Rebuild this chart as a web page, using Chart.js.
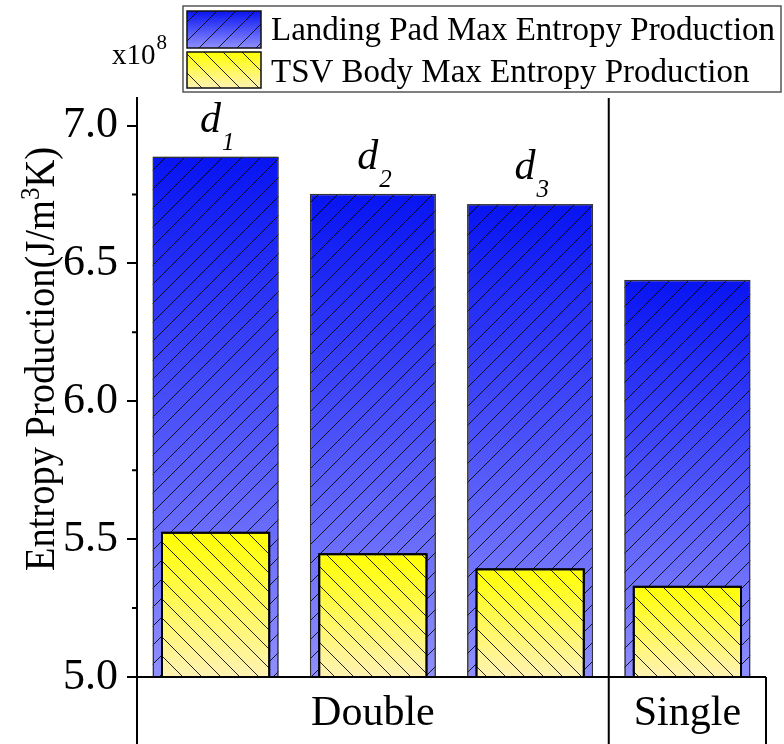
<!DOCTYPE html>
<html><head><meta charset="utf-8">
<script src="https://cdn.jsdelivr.net/npm/chart.js@4.4.0/dist/chart.umd.min.js"></script>
<style>html,body{margin:0;padding:0;background:#fff}#wrap{width:784px;height:744px;position:relative}</style>
</head><body><div id="wrap"><canvas id="c"></canvas></div>
<script>
// ---- data ----
const categories = ['d1', 'd2', 'd3', 'Single'];
const groupLabels = ['Double', 'Double', 'Double', 'Single'];
const barTagMain = ['d', 'd', 'd', ''];
const barTagSub = ['1', '2', '3', ''];
const seriesNames = ['Landing Pad Max Entropy Production', 'TSV Body Max Entropy Production'];
const landingPad = [6.887, 6.752, 6.715, 6.440];
const tsvBody = [5.527, 5.449, 5.394, 5.331];
const yMinorTicks = [5.25, 5.75, 6.25, 6.75];
const yMin = 5.0, yMax = 7.1, yStep = 0.5;
const axisTitleParts = ['Entropy Production(J/m', '3', 'K)'];
const scaleLabelParts = ['x10', '8'];

const SERIF = '"Liberation Serif", "Times New Roman", serif';
const LP_TOP = '#0814f2', LP_BOT = '#8f8fff';
const TSV_TOP = '#ffff00', TSV_BOT = '#fff2b4';
const HATCH_STEP = 19;

function gradFill(ctx, top, bottom, c0, c1) {
  const g = ctx.createLinearGradient(0, top, 0, bottom);
  g.addColorStop(0, c0); g.addColorStop(1, c1); return g;
}
function barBg(c0, c1) {
  return (ctx) => {
    const chart = ctx.chart;
    if (!chart.chartArea || ctx.type !== 'data') return c1;
    const ys = chart.scales.y;
    return gradFill(chart.ctx, ys.getPixelForValue(ctx.raw), ys.getPixelForValue(yMin), c0, c1);
  };
}
function hatch(ctx, x0, y0, x1, y1, dir, step) {
  ctx.save();
  ctx.beginPath(); ctx.rect(x0, y0, x1 - x0, y1 - y0); ctx.clip();
  ctx.strokeStyle = 'rgba(0,0,0,0.85)'; ctx.lineWidth = 1;
  ctx.beginPath();
  if (dir > 0) {
    const c0 = Math.floor((x0 + y0) / step) * step;
    for (let c = c0; c <= x1 + y1 + step; c += step) { ctx.moveTo(c - y0, y0); ctx.lineTo(c - y1, y1); }
  } else {
    const c0 = Math.floor((x0 - y1) / step) * step;
    for (let c = c0; c <= x1 - y0 + step; c += step) { ctx.moveTo(c + y0, y0); ctx.lineTo(c + y1, y1); }
  }
  ctx.stroke(); ctx.restore();
}

const decor = {
  id: 'decor',
  afterDatasetDraw(chart, args) {
    const ctx = chart.ctx, ca = chart.chartArea;
    const ds = chart.data.datasets[args.index];
    const dir = args.index === 0 ? 1 : -1;
    args.meta.data.forEach(el => {
      const p = el.getProps(['x', 'y', 'base', 'width'], true);
      const l = p.x - p.width / 2, r = p.x + p.width / 2;
      const top = Math.max(p.y, ca.top), bot = Math.min(p.base, ca.bottom);
      hatch(ctx, l, top, r, bot, dir, HATCH_STEP);
      ctx.save();
      ctx.strokeStyle = ds.borderColor; ctx.lineWidth = ds.borderWidth;
      const h = ds.borderWidth / 2;
      ctx.strokeRect(l + h, top + h, p.width - 2 * h, bot - top - h);
      ctx.restore();
    });
  },
  afterDraw(chart) {
    const ctx = chart.ctx, ca = chart.chartArea, xs = chart.scales.x, ys = chart.scales.y;
    const H = chart.height;
    ctx.save();
    ctx.strokeStyle = '#000'; ctx.lineWidth = 2;
    ctx.beginPath();
    ctx.moveTo(ca.left - 10, ca.bottom); ctx.lineTo(ca.right, ca.bottom);
    ctx.moveTo(ca.left, ca.top); ctx.lineTo(ca.left, H);
    ctx.moveTo(ca.right, ca.bottom); ctx.lineTo(ca.right, H);
    const groups = [];
    groupLabels.forEach((g, i) => {
      if (!groups.length || groups[groups.length - 1].name !== g) groups.push({ name: g, first: i, last: i });
      else groups[groups.length - 1].last = i;
    });
    const edges = groups.map(g => {
      const l = g.first === 0 ? ca.left : (xs.getPixelForValue(g.first - 1) + xs.getPixelForValue(g.first)) / 2;
      const r = g.last === categories.length - 1 ? ca.right : (xs.getPixelForValue(g.last) + xs.getPixelForValue(g.last + 1)) / 2;
      return { l, r, name: g.name };
    });
    edges.forEach((e, i) => { if (i > 0) { ctx.moveTo(e.l, ca.top); ctx.lineTo(e.l, H); } });
    ctx.stroke();
    ctx.beginPath();
    yMinorTicks.forEach(v => { const y = ys.getPixelForValue(v); ctx.moveTo(ca.left - 5, y); ctx.lineTo(ca.left, y); });
    ctx.stroke();
    ctx.fillStyle = '#000'; ctx.textAlign = 'center'; ctx.textBaseline = 'alphabetic';
    ctx.font = '42px ' + SERIF;
    edges.forEach(e => ctx.fillText(e.name, (e.l + e.r) / 2, 725));
    categories.forEach((c, i) => {
      if (!barTagMain[i]) return;
      const x = xs.getPixelForValue(i);
      const top = ys.getPixelForValue(landingPad[i]);
      ctx.font = 'italic 42px ' + SERIF;
      const w1 = ctx.measureText(barTagMain[i]).width;
      ctx.font = 'italic 25px ' + SERIF;
      const w2 = ctx.measureText(barTagSub[i]).width;
      const x0 = x - (w1 + w2) / 2 + 1;
      ctx.textAlign = 'left';
      ctx.font = 'italic 42px ' + SERIF;
      ctx.fillText(barTagMain[i], x0, top - 25);
      ctx.font = 'italic 25px ' + SERIF;
      ctx.fillText(barTagSub[i], x0 + w1 + 1, top - 7);
    });
    // y title
    ctx.save();
    ctx.translate(54, 359); ctx.rotate(-Math.PI / 2); ctx.scale(1, 1.1);
    ctx.textAlign = 'left';
    ctx.font = '38.5px ' + SERIF; const a = ctx.measureText(axisTitleParts[0]).width;
    ctx.font = '25px ' + SERIF; const b = ctx.measureText(axisTitleParts[1]).width;
    ctx.font = '38.5px ' + SERIF; const c = ctx.measureText(axisTitleParts[2]).width;
    let sx = -(a + b + c) / 2;
    ctx.font = '38.5px ' + SERIF; ctx.fillText(axisTitleParts[0], sx, 0); sx += a;
    ctx.font = '25px ' + SERIF; ctx.fillText(axisTitleParts[1], sx, -14); sx += b;
    ctx.font = '38.5px ' + SERIF; ctx.fillText(axisTitleParts[2], sx, 0);
    ctx.restore();
    // x10^8
    ctx.textAlign = 'left';
    ctx.font = '29px ' + SERIF; ctx.fillText(scaleLabelParts[0], 112, 64);
    const wx = ctx.measureText(scaleLabelParts[0]).width;
    ctx.font = '21px ' + SERIF; ctx.fillText(scaleLabelParts[1], 112 + wx + 1, 49);
    // legend
    ctx.fillStyle = '#fff'; ctx.fillRect(183, 6, 598, 86);
    ctx.strokeStyle = '#555'; ctx.lineWidth = 1.5; ctx.strokeRect(183, 6, 598, 86);
    const sw = [
      { y0: 11, y1: 48, c0: LP_TOP, c1: LP_BOT, dir: 1, base: 40 },
      { y0: 52, y1: 88, c0: TSV_TOP, c1: TSV_BOT, dir: -1, base: 82 }
    ];
    sw.forEach((s, i) => {
      ctx.fillStyle = gradFill(ctx, s.y0, s.y1, s.c0, s.c1);
      ctx.fillRect(187, s.y0, 74, s.y1 - s.y0);
      hatch(ctx, 187, s.y0, 261, s.y1, s.dir, HATCH_STEP);
      ctx.strokeStyle = '#111'; ctx.lineWidth = 1.5;
      ctx.strokeRect(187, s.y0, 74, s.y1 - s.y0);
      ctx.fillStyle = '#000'; ctx.font = '33px ' + SERIF;
      ctx.fillText(seriesNames[i], 271, s.base);
    });
    ctx.restore();
  }
};

new Chart(document.getElementById('c'), {
  type: 'bar',
  data: {
    labels: categories,
    datasets: [
      { label: seriesNames[0], data: landingPad, order: 1, grouped: false,
        backgroundColor: barBg(LP_TOP, LP_BOT), borderColor: '#333', borderWidth: 1.2, borderSkipped: false,
        barPercentage: 0.8, categoryPercentage: 1 },
      { label: seriesNames[1], data: tsvBody, order: 0, grouped: false,
        backgroundColor: barBg(TSV_TOP, TSV_BOT), borderColor: '#000', borderWidth: 2, borderSkipped: false,
        barPercentage: 0.695, categoryPercentage: 1 }
    ]
  },
  options: {
    responsive: true, maintainAspectRatio: false, animation: false,
    layout: { padding: { left: 0, right: 18, top: 98, bottom: 67 } },
    plugins: { legend: { display: false }, tooltip: { enabled: false } },
    scales: {
      x: { display: false, offset: true },
      y: {
        min: yMin, max: yMax,
        afterFit: s => { s.width = 137; },
        ticks: { stepSize: yStep, includeBounds: false, color: '#000', padding: 9,
          font: { family: SERIF, size: 44 }, callback: v => Number(v).toFixed(1) },
        grid: { display: true, drawOnChartArea: false, drawTicks: true, tickLength: 10, color: '#000', lineWidth: 2 },
        border: { display: true, color: '#000', width: 2 }
      }
    }
  },
  plugins: [decor]
});
</script></body></html>
